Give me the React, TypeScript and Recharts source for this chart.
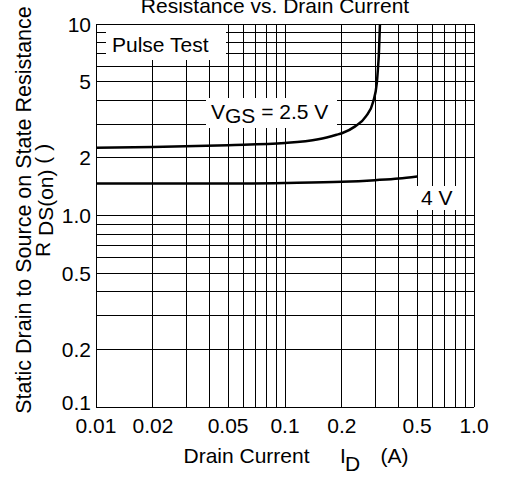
import { LineChart, Line, XAxis, YAxis, CartesianGrid } from "recharts";

// grid lines (1-2-...-9 per decade)
const xGrid = [0.01, 0.02, 0.03, 0.04, 0.05, 0.06, 0.07, 0.08, 0.09, 0.1, 0.2, 0.3, 0.4, 0.5, 0.6, 0.7, 0.8, 0.9, 1];
const yGrid = [0.1, 0.2, 0.3, 0.4, 0.5, 0.6, 0.7, 0.8, 0.9, 1, 2, 3, 4, 5, 6, 7, 8, 9, 10];

// labelled ticks
const xLabelValues = [0.01, 0.02, 0.05, 0.1, 0.2, 0.5, 1];
const xLabelText = ["0.01", "0.02", "0.05", "0.1", "0.2", "0.5", "1.0"];
const yLabelValues = [0.1, 0.2, 0.5, 1, 2, 5, 10];
const yLabelText = ["0.1", "0.2", "0.5", "1.0", "2", "5", "10"];

// VGS = 2.5 V
const id25 = [0.01, 0.02, 0.05, 0.1, 0.15, 0.1874, 0.2, 0.235, 0.268, 0.293, 0.306, 0.31, 0.314, 0.318];
const rds25 = [2.26, 2.28, 2.33, 2.39, 2.5, 2.64, 2.69, 2.92, 3.29, 3.94, 4.91, 5.77, 7.05, 10];

// VGS = 4 V
const id4 = [0.01, 0.05, 0.1, 0.2, 0.3, 0.4, 0.5];
const rds4 = [1.47, 1.47, 1.48, 1.5, 1.53, 1.56, 1.6];

const curve25 = id25.map((x, i) => ({ x, y: rds25[i] }));
const curve4 = id4.map((x, i) => ({ x, y: rds4[i] }));

const FONT = "'Liberation Sans', Arial, Helvetica, sans-serif";
const FS = 21;

const XTick = (props: any) => {
  const i = xLabelValues.indexOf(props.payload.value);
  if (i < 0) return null;
  return (
    <text x={props.x} y={433} textAnchor="middle" fontSize={FS} fontFamily={FONT} fill="#000">
      {xLabelText[i]}
    </text>
  );
};

const YTick = (props: any) => {
  const i = yLabelValues.indexOf(props.payload.value);
  if (i < 0) return null;
  // bottom label sits a little above its line, as in the original
  const lift = i === 0 ? -5 : 0;
  return (
    <text x={91} y={props.y + lift} dy="0.36em" textAnchor="end" fontSize={FS} fontFamily={FONT} fill="#000">
      {yLabelText[i]}
    </text>
  );
};

export default function App() {
  return (
    <div style={{ position: "absolute", left: 0, top: 0, width: 510, height: 477, background: "#fff" }}>
      <LineChart width={510} height={477} margin={{ top: 24, right: 36, bottom: 0, left: 0 }}>
        <CartesianGrid stroke="#000" strokeWidth={1} shapeRendering="crispEdges" />
        <XAxis
          type="number"
          dataKey="x"
          scale="log"
          domain={[0.01, 1]}
          ticks={xGrid}
          allowDataOverflow
          height={70}
          tickLine={false}
          axisLine={{ stroke: "#000", shapeRendering: "crispEdges" }}
          tick={<XTick />}
          interval={0}
        />
        <YAxis
          type="number"
          dataKey="y"
          scale="log"
          domain={[0.1, 10]}
          ticks={yGrid}
          allowDataOverflow
          width={96}
          tickLine={false}
          axisLine={{ stroke: "#000", shapeRendering: "crispEdges" }}
          tick={<YTick />}
          interval={0}
        />
        <Line data={curve25} dataKey="y" type="monotone" stroke="#000" strokeWidth={2.5} dot={false} isAnimationActive={false} />
        <Line data={curve4} dataKey="y" type="monotone" stroke="#000" strokeWidth={2.5} dot={false} isAnimationActive={false} />
      </LineChart>
      <svg width={510} height={477} style={{ position: "absolute", left: 0, top: 0, pointerEvents: "none" }} fontFamily={FONT} fontSize={FS} fill="#000">
        <text x={275} y={13} textAnchor="middle">Resistance vs. Drain Current</text>

        <text x={31} y={210} textAnchor="middle" fontSize={21.5} transform="rotate(-90 31 210)">
          Static Drain to Source on State Resistance
        </text>
        <text x={50} y={257} textAnchor="start" transform="rotate(-90 50 257)">
          R <tspan dy={3}>DS(on)</tspan>
          <tspan dy={-3}> ( )</tspan>
        </text>

        <text y={463}>
          <tspan x={183.5}>Drain Current</tspan>
          <tspan x={340}>I</tspan>
          <tspan x={345} dy={8}>D</tspan>
          <tspan x={380.5} dy={-8}>(A)</tspan>
        </text>

        <rect x={106} y={25} width={120} height={35} fill="#fff" />
        <text x={112} y={52}>Pulse Test</text>

        <rect x={206} y={98} width={131} height={30} fill="#fff" />
        <text x={211} y={118.5}>
          V<tspan dy={4}>GS</tspan>
          <tspan dy={-4}> = 2.5 V</tspan>
        </text>

        <rect x={415} y={186} width={42} height={24} fill="#fff" />
        <text x={421} y={205}>4 V</text>
      </svg>
    </div>
  );
}
